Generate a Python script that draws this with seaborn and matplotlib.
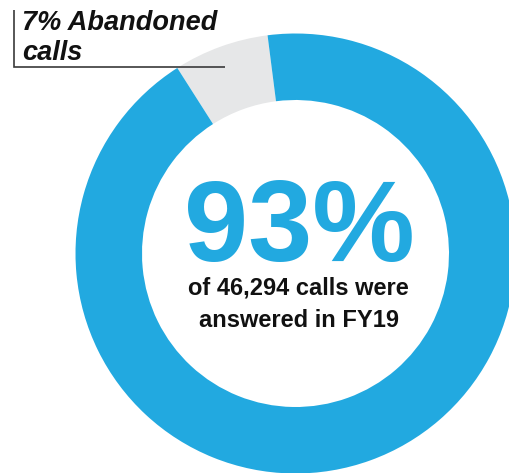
import matplotlib
matplotlib.use("Agg")
import matplotlib.pyplot as plt
import seaborn as sns

# Call outcome shares for FY19
outcomes = ["Abandoned", "Answered"]
shares = [7, 93]
total_calls = "46,294"
headline = "93%"
callout = ["7% Abandoned", "calls"]
subtitle = ["of 46,294 calls were", "answered in FY19"]

BLUE = "#22a9e0"
GREY = "#e6e7e8"

sns.set_theme(style="white")
plt.rcParams["font.family"] = ["Liberation Sans", "DejaVu Sans"]

W, H = 510, 473
fig = plt.figure(figsize=(W / 100, H / 100), dpi=100)
ax = fig.add_axes([0, 0, 1, 1])

palette = sns.color_palette([GREY, BLUE])
ax.pie(
    shares,
    colors=palette,
    startangle=97.3,
    counterclock=True,
    center=(295.5, H - 253.5),
    radius=220,
    frame=True,
    wedgeprops=dict(width=66.5, linewidth=0),
)
ax.set_xlim(0, W)
ax.set_ylim(0, H)
ax.set_aspect("equal")
ax.axis("off")

# Big headline inside the ring
ax.text(299, H - 261, headline, ha="center", va="baseline",
        fontsize=83, fontweight="bold", color=BLUE)
ax.text(298, H - 295, subtitle[0], ha="center", va="baseline",
        fontsize=17, fontweight="bold", color="#111111")
ax.text(299, H - 327, subtitle[1], ha="center", va="baseline",
        fontsize=17, fontweight="bold", color="#111111")

# Callout for the abandoned share
ax.text(22, H - 30, callout[0], ha="left", va="baseline",
        fontsize=19.5, fontweight="bold", fontstyle="italic", color="#111111")
ax.text(22, H - 60, callout[1], ha="left", va="baseline",
        fontsize=19.5, fontweight="bold", fontstyle="italic", color="#111111")
ax.plot([14, 14, 225], [H - 10, H - 67, H - 67], color="#3a3a3a",
        linewidth=1.2, solid_capstyle="butt", solid_joinstyle="miter")

fig.savefig("out.png", dpi=100)
